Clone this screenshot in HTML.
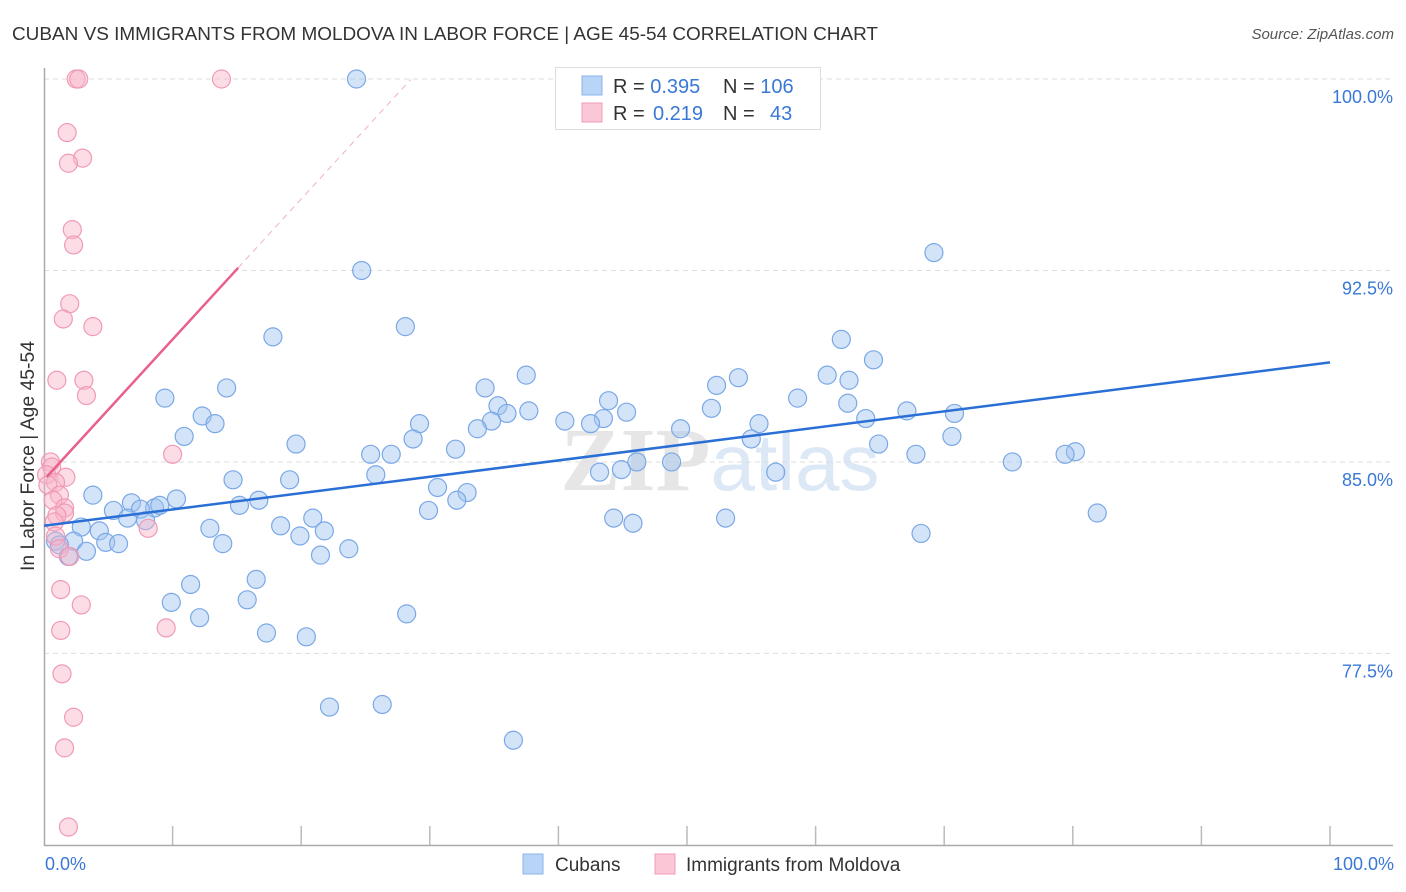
<!DOCTYPE html>
<html><head><meta charset="utf-8"><style>
body{margin:0;background:#fff;font-family:"Liberation Sans",sans-serif;}
svg{display:block}
</style></head><body>
<svg id="chart" width="1406" height="892">
<text x="12" y="40" font-size="18" fill="#333" textLength="866" lengthAdjust="spacingAndGlyphs">CUBAN VS IMMIGRANTS FROM MOLDOVA IN LABOR FORCE | AGE 45-54 CORRELATION CHART</text>
<text x="1394" y="39" font-size="15" fill="#555" text-anchor="end" font-style="italic">Source: ZipAtlas.com</text>
<text x="720" y="490" font-size="90" fill="#e6e6e6" text-anchor="middle" font-family="Liberation Serif,serif" font-weight="bold">ZIP<tspan fill="#dce8f5" font-family="Liberation Sans,sans-serif" font-weight="normal" font-size="80">atlas</tspan></text>
<g id="grid"></g>
<g id="axes"></g>
<g id="marks"></g>
<text transform="translate(34,456) rotate(-90)" font-size="19" fill="#333" text-anchor="middle" textLength="230" lengthAdjust="spacingAndGlyphs">In Labor Force | Age 45-54</text>
<g>
<rect x="555.5" y="67.5" width="265" height="62" fill="#fff" stroke="#ddd"/>
<rect x="582" y="76" width="20" height="19" fill="#b8d4f6" stroke="#8ab4ea"/>
<rect x="582" y="103" width="20" height="19" fill="#fbc6d6" stroke="#f19bb8"/>
<text x="613" y="93" font-size="20" fill="#333">R = <tspan fill="#3a78d6">0.395</tspan><tspan x="723">N = </tspan><tspan fill="#3a78d6">106</tspan></text>
<text x="613" y="120" font-size="20" fill="#333">R = <tspan x="653" fill="#3a78d6">0.219</tspan><tspan x="723">N = </tspan><tspan x="770" fill="#3a78d6">43</tspan></text>
</g>
<g>
<rect x="523" y="854" width="20" height="20" fill="#b8d4f6" stroke="#8ab4ea"/>
<text x="555" y="871" font-size="19" fill="#333">Cubans</text>
<rect x="655" y="854" width="20" height="20" fill="#fbc6d6" stroke="#f19bb8"/>
<text x="686" y="871" font-size="19" fill="#333">Immigrants from Moldova</text>
</g>
</svg>
<script>
const blueX=[24.3,69.2,24.7,28.1,17.8,62.0,64.5,37.5,54.0,52.3,60.9,62.6,14.2,34.3,9.4,58.6,43.9,35.3,62.5,51.9,37.7,36.0,45.3,12.3,29.2,40.5,43.5,42.5,55.6,34.8,13.3,67.1,70.8,63.9,33.7,49.5,10.9,19.6,28.7,70.6,55.0,64.9,32.0,25.4,27.0,80.2,79.4,67.8,46.1,48.8,75.3,43.2,44.9,56.9,25.8,14.7,19.1,30.6,32.9,3.8,10.3,6.8,16.7,32.1,15.2,5.4,8.6,7.5,9.0,6.5,29.9,81.9,44.3,53.0,45.8,7.9,20.9,2.9,12.9,18.4,4.3,21.8,19.9,68.2,0.9,2.3,1.2,4.8,5.8,13.9,23.7,3.3,1.9,21.5,16.5,11.4,9.9,15.8,12.1,28.2,17.3,20.4,22.2,26.3,36.5];
const blueY=[100,93.2,92.5,90.3,89.9,89.8,89.0,88.4,88.3,88.0,88.4,88.2,87.9,87.9,87.5,87.5,87.4,87.2,87.3,87.1,87.0,86.9,86.95,86.8,86.5,86.6,86.7,86.5,86.5,86.6,86.5,87.0,86.9,86.7,86.3,86.3,86.0,85.7,85.9,86.0,85.9,85.7,85.5,85.3,85.3,85.4,85.3,85.3,85.0,85.0,85.0,84.6,84.7,84.6,84.5,84.3,84.3,84.0,83.8,83.7,83.55,83.4,83.5,83.5,83.3,83.1,83.2,83.15,83.3,82.8,83.1,83.0,82.8,82.8,82.6,82.7,82.8,82.45,82.4,82.5,82.3,82.3,82.1,82.2,81.9,81.9,81.75,81.85,81.8,81.8,81.6,81.5,81.3,81.35,80.4,80.2,79.5,79.6,78.9,79.05,78.3,78.15,75.4,75.5,74.1];
const pinkX=[2.5,2.7,13.8,1.8,3.0,1.9,2.2,2.3,2.0,1.5,3.8,1.0,3.1,3.3,10.0,0.5,0.6,1.7,0.2,0.9,0.3,1.2,0.7,1.6,1.6,1.0,0.8,8.1,0.9,1.2,2.0,1.3,2.9,9.5,1.3,1.4,2.3,1.6,1.9];
const pinkY=[100,100,100,97.9,96.9,96.7,94.1,93.5,91.2,90.6,90.3,88.2,88.2,87.6,85.3,85.0,84.8,84.4,84.5,84.2,84.1,83.7,83.5,83.2,83.0,82.9,82.65,82.4,82.1,81.6,81.3,80.0,79.4,78.5,78.4,76.7,75.0,73.8,70.7];
const blueTrend=[82.5,88.9];
const pinkTrend=[84.3,0.55];
const yTicks=[100,92.5,85,77.5];
const yTickLabels=["100.0%","92.5%","85.0%","77.5%"];
const xTickLabels=["0.0%","100.0%"];
const NS="http://www.w3.org/2000/svg";
const sx=v=>44+v*12.86;
const sy=v=>79+(100-v)*25.53;
function mk(tag,attrs,parent){const e=document.createElementNS(NS,tag);for(const k in attrs)e.setAttribute(k,attrs[k]);parent.appendChild(e);return e;}
const grid=document.getElementById('grid'),axes=document.getElementById('axes'),marks=document.getElementById('marks');
yTicks.forEach((t,i)=>{
 const l=mk('line',{x1:44,x2:1393,y1:sy(t),y2:sy(t),stroke:'#ddd','stroke-dasharray':'5,4'},grid);
 
 
 const tx=mk('text',{x:1393,y:sy(t)+24,'font-size':18,fill:'#3a78d6','text-anchor':'end'},axes);
 tx.textContent=yTickLabels[i];
 
 
});
const ax=mk('path',{d:'M44.5,68V845.5H1393',stroke:'#aaa',fill:'none','stroke-width':1.5},axes);


for(let i=1;i<=10;i++){
 const t=mk('line',{x1:sx(i*10),x2:sx(i*10),y1:826,y2:845,stroke:'#bbb','stroke-width':1.5},axes);
 
 
}
[[0,'start',45],[100,'end',1394]].forEach((d,i)=>{
 const tx=mk('text',{x:d[2],y:870,'font-size':18,fill:'#3a78d6','text-anchor':d[1]},axes);
 tx.textContent=xTickLabels[i];
 
 
});
blueX.forEach((x,i)=>{
 const c=mk('circle',{cx:sx(x),cy:sy(blueY[i]),r:9,fill:'rgba(160,196,240,0.45)',stroke:'#7aa8e6','stroke-width':1.2},marks);
 
 
});
pinkX.forEach((x,i)=>{
 const c=mk('circle',{cx:sx(x),cy:sy(pinkY[i]),r:9,fill:'rgba(248,180,200,0.45)',stroke:'#f09ab6','stroke-width':1.2},marks);
 
 
});
const bl=mk('line',{x1:sx(0),y1:sy(blueTrend[0]),x2:sx(100),y2:sy(blueTrend[1]),stroke:'#2a6fd6','stroke-width':2.5},marks);


const pv=x=>pinkTrend[0]+pinkTrend[1]*x;
const pl=mk('line',{x1:sx(0.2),y1:sy(pv(0.2)),x2:sx(15.1),y2:sy(pv(15.1)),stroke:'#e8608c','stroke-width':2.5},marks);


const pd=mk('line',{x1:sx(15.1),y1:sy(pv(15.1)),x2:sx(28.5),y2:sy(pv(28.5)),stroke:'#f0b0c4','stroke-width':1,'stroke-dasharray':'6,5'},marks);


</script>
</body></html>
